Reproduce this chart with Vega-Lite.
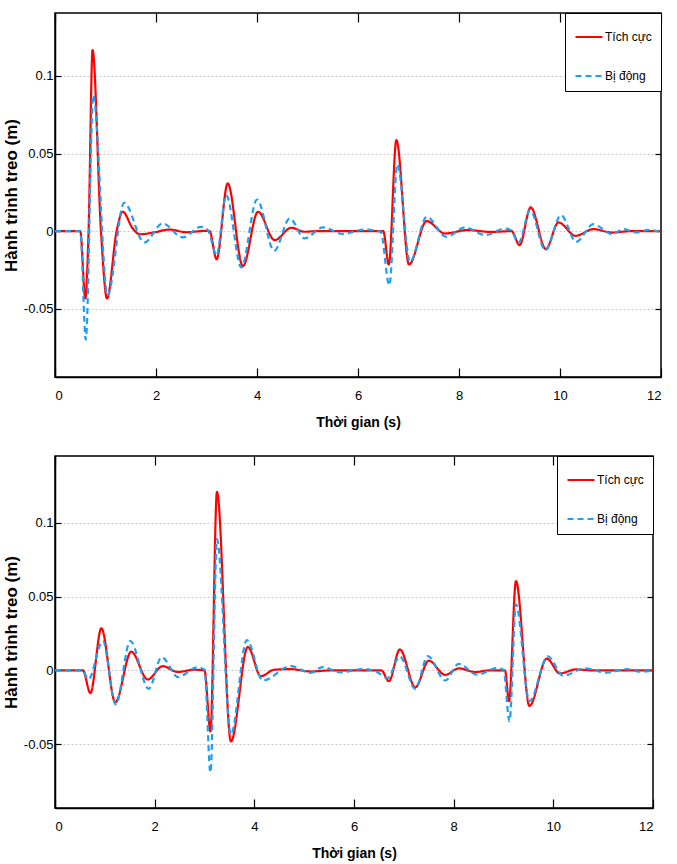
{
  "$schema": "https://vega.github.io/schema/vega-lite/v6.json",
  "background": "white",
  "padding": {"left": 2, "top": 11, "right": 5, "bottom": 3},
  "datasets": {
    "top": [
      {"t":0,"v":0,"s":"Tích cực"},{"t":0.5,"v":0,"s":"Tích cực"},{"t":0.6,"v":-0.0434,"s":"Tích cực"},{"t":0.665,"v":0,"s":"Tích cực"},{"t":0.744,"v":0.1167,"s":"Tích cực"},{"t":0.91,"v":0,"s":"Tích cực"},{"t":1.03,"v":-0.0434,"s":"Tích cực"},{"t":1.22,"v":0,"s":"Tích cực"},{"t":1.34,"v":0.0125,"s":"Tích cực"},{"t":1.54,"v":0.0017,"s":"Tích cực"},{"t":1.68,"v":-0.002,"s":"Tích cực"},{"t":1.93,"v":-0.001,"s":"Tích cực"},{"t":2.27,"v":0.001,"s":"Tích cực"},{"t":2.6,"v":-0.0007,"s":"Tích cực"},{"t":2.99,"v":0.0002,"s":"Tích cực"},{"t":3.06,"v":0,"s":"Tích cực"},{"t":3.2,"v":-0.0181,"s":"Tích cực"},{"t":3.42,"v":0.0308,"s":"Tích cực"},{"t":3.72,"v":-0.0226,"s":"Tích cực"},{"t":4.02,"v":0.0125,"s":"Tích cực"},{"t":4.35,"v":-0.0058,"s":"Tích cực"},{"t":4.68,"v":0.0022,"s":"Tích cực"},{"t":4.94,"v":-0.0004,"s":"Tích cực"},{"t":5.2,"v":0,"s":"Tích cực"},{"t":6.5,"v":0,"s":"Tích cực"},{"t":6.61,"v":-0.0215,"s":"Tích cực"},{"t":6.76,"v":0.0587,"s":"Tích cực"},{"t":7.01,"v":-0.0215,"s":"Tích cực"},{"t":7.36,"v":0.0065,"s":"Tích cực"},{"t":7.72,"v":-0.0015,"s":"Tích cực"},{"t":8.17,"v":0.0007,"s":"Tích cực"},{"t":8.63,"v":-0.0005,"s":"Tích cực"},{"t":9.04,"v":0,"s":"Tích cực"},{"t":9.2,"v":-0.009,"s":"Tích cực"},{"t":9.42,"v":0.0153,"s":"Tích cực"},{"t":9.72,"v":-0.0116,"s":"Tích cực"},{"t":9.97,"v":0.0056,"s":"Tích cực"},{"t":10.31,"v":-0.003,"s":"Tích cực"},{"t":10.66,"v":0.0013,"s":"Tích cực"},{"t":11.03,"v":-0.0009,"s":"Tích cực"},{"t":11.4,"v":0,"s":"Tích cực"},{"t":12,"v":0,"s":"Tích cực"},
      {"t":0,"v":0,"s":"Bị động"},{"t":0.5,"v":0,"s":"Bị động"},{"t":0.61,"v":-0.07,"s":"Bị động"},{"t":0.757,"v":0.0877,"s":"Bị động"},{"t":1.04,"v":-0.0413,"s":"Bị động"},{"t":1.37,"v":0.0183,"s":"Bị động"},{"t":1.77,"v":-0.0073,"s":"Bị động"},{"t":2.13,"v":0.005,"s":"Bị động"},{"t":2.53,"v":-0.004,"s":"Bị động"},{"t":2.89,"v":0.0028,"s":"Bị động"},{"t":3.03,"v":0.0005,"s":"Bị động"},{"t":3.2,"v":-0.0155,"s":"Bị động"},{"t":3.39,"v":0.0232,"s":"Bị động"},{"t":3.69,"v":-0.0234,"s":"Bị động"},{"t":4.0,"v":0.0204,"s":"Bị động"},{"t":4.34,"v":-0.0127,"s":"Bị động"},{"t":4.65,"v":0.0082,"s":"Bị động"},{"t":4.94,"v":-0.0047,"s":"Bị động"},{"t":5.31,"v":0.0024,"s":"Bị động"},{"t":5.7,"v":-0.0018,"s":"Bị động"},{"t":6.13,"v":0.001,"s":"Bị động"},{"t":6.45,"v":-0.0005,"s":"Bị động"},{"t":6.62,"v":-0.0348,"s":"Bị động"},{"t":6.78,"v":0.043,"s":"Bị động"},{"t":7.03,"v":-0.0198,"s":"Bị động"},{"t":7.36,"v":0.0092,"s":"Bị động"},{"t":7.75,"v":-0.0037,"s":"Bị động"},{"t":8.12,"v":0.0024,"s":"Bị động"},{"t":8.52,"v":-0.0026,"s":"Bị động"},{"t":8.91,"v":0.0017,"s":"Bị động"},{"t":9.03,"v":0.0005,"s":"Bị động"},{"t":9.18,"v":-0.0075,"s":"Bị động"},{"t":9.41,"v":0.0135,"s":"Bị động"},{"t":9.71,"v":-0.0123,"s":"Bị động"},{"t":10.02,"v":0.0103,"s":"Bị động"},{"t":10.32,"v":-0.0069,"s":"Bị động"},{"t":10.66,"v":0.0045,"s":"Bị động"},{"t":11.03,"v":-0.0019,"s":"Bị động"},{"t":11.26,"v":0.0013,"s":"Bị động"},{"t":11.5,"v":-0.0008,"s":"Bị động"},{"t":11.75,"v":0.0008,"s":"Bị động"},{"t":12,"v":-0.0005,"s":"Bị động"}
    ],
    "bottom": [
      {"t":0,"v":0,"s":"Tích cực"},{"t":0.56,"v":0,"s":"Tích cực"},{"t":0.71,"v":-0.0153,"s":"Tích cực"},{"t":0.93,"v":0.0285,"s":"Tích cực"},{"t":1.21,"v":-0.0215,"s":"Tích cực"},{"t":1.53,"v":0.0127,"s":"Tích cực"},{"t":1.86,"v":-0.0061,"s":"Tích cực"},{"t":2.16,"v":0.0029,"s":"Tích cực"},{"t":2.46,"v":-0.001,"s":"Tích cực"},{"t":2.8,"v":0.0005,"s":"Tích cực"},{"t":3.0,"v":0,"s":"Tích cực"},{"t":3.12,"v":-0.0412,"s":"Tích cực"},{"t":3.25,"v":0.1207,"s":"Tích cực"},{"t":3.53,"v":-0.048,"s":"Tích cực"},{"t":3.87,"v":0.0159,"s":"Tích cực"},{"t":4.13,"v":-0.0039,"s":"Tích cực"},{"t":4.4,"v":0.0005,"s":"Tích cực"},{"t":4.73,"v":0.0009,"s":"Tích cực"},{"t":5.13,"v":-0.0007,"s":"Tích cực"},{"t":5.5,"v":0,"s":"Tích cực"},{"t":6.55,"v":0,"s":"Tích cực"},{"t":6.7,"v":-0.0073,"s":"Tích cực"},{"t":6.92,"v":0.0142,"s":"Tích cực"},{"t":7.23,"v":-0.0114,"s":"Tích cực"},{"t":7.5,"v":0.0066,"s":"Tích cực"},{"t":7.83,"v":-0.003,"s":"Tích cực"},{"t":8.1,"v":0.0014,"s":"Tích cực"},{"t":8.44,"v":-0.0011,"s":"Tích cực"},{"t":8.7,"v":0,"s":"Tích cực"},{"t":9.03,"v":0,"s":"Tích cực"},{"t":9.11,"v":-0.0208,"s":"Tích cực"},{"t":9.25,"v":0.0604,"s":"Tích cực"},{"t":9.52,"v":-0.024,"s":"Tích cực"},{"t":9.87,"v":0.008,"s":"Tích cực"},{"t":10.13,"v":-0.002,"s":"Tích cực"},{"t":10.45,"v":0.0007,"s":"Tích cực"},{"t":10.8,"v":0,"s":"Tích cực"},{"t":12,"v":0,"s":"Tích cực"},
      {"t":0,"v":0,"s":"Bị động"},{"t":0.55,"v":0,"s":"Bị động"},{"t":0.67,"v":-0.006,"s":"Bị động"},{"t":0.96,"v":0.0199,"s":"Bị động"},{"t":1.22,"v":-0.023,"s":"Bị động"},{"t":1.51,"v":0.0199,"s":"Bị động"},{"t":1.88,"v":-0.0124,"s":"Bị động"},{"t":2.14,"v":0.009,"s":"Bị động"},{"t":2.47,"v":-0.0045,"s":"Bị động"},{"t":2.86,"v":0.0022,"s":"Bị động"},{"t":3.0,"v":0.0005,"s":"Bị động"},{"t":3.12,"v":-0.069,"s":"Bị động"},{"t":3.25,"v":0.0888,"s":"Bị động"},{"t":3.53,"v":-0.0434,"s":"Bị động"},{"t":3.85,"v":0.0206,"s":"Bị động"},{"t":4.17,"v":-0.0068,"s":"Bị động"},{"t":4.73,"v":0.0029,"s":"Bị động"},{"t":5.13,"v":-0.0017,"s":"Bị động"},{"t":5.37,"v":0.0023,"s":"Bị động"},{"t":5.73,"v":-0.0013,"s":"Bị động"},{"t":6.17,"v":0.001,"s":"Bị động"},{"t":6.45,"v":-0.0008,"s":"Bị động"},{"t":6.67,"v":-0.0052,"s":"Bị động"},{"t":6.92,"v":0.0095,"s":"Bị động"},{"t":7.23,"v":-0.0124,"s":"Bị động"},{"t":7.48,"v":0.0097,"s":"Bị động"},{"t":7.83,"v":-0.0068,"s":"Bị động"},{"t":8.1,"v":0.0045,"s":"Bị động"},{"t":8.47,"v":-0.0029,"s":"Bị động"},{"t":8.87,"v":0.0016,"s":"Bị động"},{"t":9.0,"v":0.0005,"s":"Bị động"},{"t":9.12,"v":-0.0344,"s":"Bị động"},{"t":9.25,"v":0.0447,"s":"Bị động"},{"t":9.52,"v":-0.0208,"s":"Bị động"},{"t":9.89,"v":0.0096,"s":"Bị động"},{"t":10.2,"v":-0.0036,"s":"Bị động"},{"t":10.63,"v":0.0015,"s":"Bị động"},{"t":11.07,"v":-0.0015,"s":"Bị động"},{"t":11.47,"v":0.001,"s":"Bị động"},{"t":11.73,"v":-0.0008,"s":"Bị động"},{"t":12,"v":0,"s":"Bị động"}
    ]
  },
  "config": {
    "view": {"stroke": "black", "strokeWidth": 1.5},
    "axis": {
      "domainColor": "black", "domainWidth": 1.5, "tickColor": "black", "tickWidth": 1.2,
      "labelColor": "black", "titleColor": "black", "grid": false,
      "labelFont": "Liberation Sans, Arial, sans-serif", "labelFontSize": 13
    },
    "legend": {
      "orient": "top-right", "offset": 0, "fillColor": "white", "strokeColor": "black", "strokeWidth": 1,
      "padding": 9, "symbolType": "stroke", "symbolSize": 729, "symbolStrokeWidth": 2.2,
      "labelFont": "Liberation Sans, Arial, sans-serif", "labelFontSize": 12,
      "labelColor": "black", "labelOffset": 1, "rowPadding": 18, "title": null
    }
  },
  "concat": [
    {
      "width": 606, "height": 364,
      "data": {"name": "top"},
      "layer": [
        {
          "mark": {"type": "line", "interpolate": "monotone", "strokeWidth": 2.2},
          "encoding": {
            "x": {"field": "t", "type": "quantitative", "scale": {"domain": [0, 12], "nice": false},
              "axis": {"orient": "bottom", "values": [0,2,4,6,8,10,12], "tickSize": -9, "labelPadding": 21, "grid": false,
                "title": "Thời gian (s)", "titleFont": "Liberation Sans, Arial, sans-serif", "titleFontSize": 14, "titleFontWeight": "bold", "titlePadding": 13}},
            "y": {"field": "v", "type": "quantitative", "scale": {"domain": [-0.094, 0.1406], "nice": false, "zero": false},
              "axis": {"orient": "left", "values": [-0.05, 0, 0.05, 0.1], "tickSize": -6, "labelPadding": 8,
                "labelExpr": "datum.value === 0 ? '0' : (datum.value < 0 ? '-' : '') + format(abs(datum.value), '~g')",
                "grid": true, "gridColor": "#c8c8c8", "gridDash": [2, 2], "gridWidth": 1,
                "title": "Hành trình treo (m)", "titleFont": "Liberation Sans, Arial, sans-serif", "titleFontSize": 17, "titleFontWeight": "bold", "titlePadding": 2.5}},
            "color": {"field": "s", "type": "nominal", "scale": {"domain": ["Tích cực", "Bị động"], "range": ["#ff0000", "#1e9ff2"]}, "legend": {"title": null}},
            "strokeDash": {"field": "s", "type": "nominal", "scale": {"domain": ["Tích cực", "Bị động"], "range": [[1, 0], [6, 4]]}, "legend": {"title": null}}
          }
        },
        {
          "data": {"values": [{"t": 0, "v": 0}]},
          "mark": {"type": "point", "opacity": 0},
          "encoding": {
            "x": {"field": "t", "type": "quantitative", "axis": {"orient": "top", "values": [0,2,4,6,8,10,12], "tickSize": -9, "labels": false, "domain": false, "grid": false, "title": null}},
            "y": {"field": "v", "type": "quantitative", "axis": {"orient": "right", "values": [-0.05, 0, 0.05, 0.1], "tickSize": -6, "labels": false, "domain": false, "grid": false, "title": null}}
          }
        }
      ],
      "resolve": {"axis": {"x": "independent", "y": "independent"}}
    },
    {
      "width": 598, "height": 352,
      "data": {"name": "bottom"},
      "layer": [
        {
          "mark": {"type": "line", "interpolate": "monotone", "strokeWidth": 2.2},
          "encoding": {
            "x": {"field": "t", "type": "quantitative", "scale": {"domain": [0, 12], "nice": false},
              "axis": {"orient": "bottom", "values": [0,2,4,6,8,10,12], "tickSize": -9, "labelPadding": 21, "grid": false,
                "title": "Thời gian (s)", "titleFont": "Liberation Sans, Arial, sans-serif", "titleFontSize": 14, "titleFontWeight": "bold", "titlePadding": 13}},
            "y": {"field": "v", "type": "quantitative", "scale": {"domain": [-0.093, 0.145], "nice": false, "zero": false},
              "axis": {"orient": "left", "values": [-0.05, 0, 0.05, 0.1], "tickSize": -6, "labelPadding": 8,
                "labelExpr": "datum.value === 0 ? '0' : (datum.value < 0 ? '-' : '') + format(abs(datum.value), '~g')",
                "grid": true, "gridColor": "#c8c8c8", "gridDash": [2, 2], "gridWidth": 1,
                "title": "Hành trình treo (m)", "titleFont": "Liberation Sans, Arial, sans-serif", "titleFontSize": 17, "titleFontWeight": "bold", "titlePadding": 2.5}},
            "color": {"field": "s", "type": "nominal", "scale": {"domain": ["Tích cực", "Bị động"], "range": ["#ff0000", "#1e9ff2"]}, "legend": {"title": null}},
            "strokeDash": {"field": "s", "type": "nominal", "scale": {"domain": ["Tích cực", "Bị động"], "range": [[1, 0], [6, 4]]}, "legend": {"title": null}}
          }
        },
        {
          "data": {"values": [{"t": 0, "v": 0}]},
          "mark": {"type": "point", "opacity": 0},
          "encoding": {
            "x": {"field": "t", "type": "quantitative", "axis": {"orient": "top", "values": [0,2,4,6,8,10,12], "tickSize": -9, "labels": false, "domain": false, "grid": false, "title": null}},
            "y": {"field": "v", "type": "quantitative", "axis": {"orient": "right", "values": [-0.05, 0, 0.05, 0.1], "tickSize": -6, "labels": false, "domain": false, "grid": false, "title": null}}
          }
        }
      ],
      "resolve": {"axis": {"x": "independent", "y": "independent"}}
    }
  ],
  "columns": 1,
  "align": "none",
  "spacing": 24,
  "resolve": {"scale": {"color": "independent", "strokeDash": "independent"}}
}
